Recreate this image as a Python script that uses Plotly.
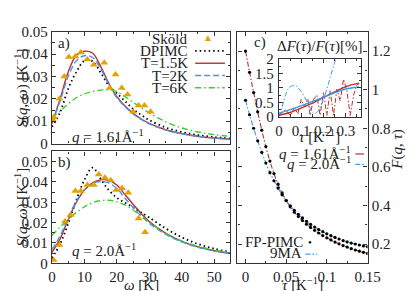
import plotly.graph_objects as go

W, H = 415, 291
FONT = "Liberation Serif"
RED = "#b8312f"
BLUE = "#3a9af0"
GREEN = "#3ccf2a"
ORANGE = "#e8a000"
FRAME = "#333333"

# ---------------- data ----------------
omega = [0, 2.5, 5, 7.5, 10, 12.5, 15, 17.5, 20, 22.5, 25, 27.5, 30, 35, 40, 45, 50, 55]

# panel a, q = 1.61 1/A
a_dpimc = [0.0075, 0.014, 0.0245, 0.032, 0.037, 0.0368, 0.0318, 0.026, 0.0225, 0.019, 0.0155, 0.0128, 0.0105, 0.0072, 0.0052, 0.0038, 0.0029, 0.0023]
a_T15 = [0.009, 0.020, 0.032, 0.0395, 0.0413, 0.0405, 0.0345, 0.027, 0.021, 0.0168, 0.0135, 0.011, 0.009, 0.0062, 0.0045, 0.0033, 0.0025, 0.002]
a_T2 = [0.0095, 0.019, 0.030, 0.037, 0.0393, 0.0385, 0.0335, 0.0265, 0.0205, 0.0165, 0.0133, 0.0108, 0.0088, 0.0061, 0.0044, 0.0032, 0.0024, 0.0019]
a_T6 = [0.0115, 0.0145, 0.0178, 0.0205, 0.0222, 0.0233, 0.0239, 0.024, 0.0232, 0.021, 0.0185, 0.016, 0.0137, 0.0098, 0.007, 0.0052, 0.004, 0.0032]
a_skold_w = [0.3, 0.5, 2.3, 3.8, 5.2, 7.2, 8.9, 10.9, 12.9, 16.1, 17.8, 19.6, 21.5, 23.3, 25.0, 26.7, 28.5, 30.4]
a_skold_s = [0.0105, 0.0118, 0.0201, 0.030, 0.0387, 0.039, 0.0407, 0.0376, 0.0352, 0.0362, 0.0248, 0.0309, 0.0248, 0.022, 0.0142, 0.017, 0.017, 0.0142]

# panel b, q = 2.0 1/A
b_dpimc = [0.0025, 0.0095, 0.0195, 0.031, 0.041, 0.047, 0.0415, 0.036, 0.0322, 0.0298, 0.0275, 0.025, 0.0225, 0.0172, 0.0128, 0.0095, 0.0072, 0.0055]
b_T15 = [0.0054, 0.012, 0.0215, 0.030, 0.036, 0.0395, 0.041, 0.0408, 0.0385, 0.0338, 0.029, 0.0245, 0.0205, 0.0148, 0.0108, 0.0081, 0.0062, 0.005]
b_T2 = [0.0068, 0.0135, 0.0225, 0.0305, 0.0362, 0.0393, 0.0402, 0.0395, 0.0368, 0.032, 0.0275, 0.0233, 0.0197, 0.0143, 0.0105, 0.0079, 0.0061, 0.0049]
b_T6 = [0.0138, 0.0178, 0.0215, 0.025, 0.0278, 0.0298, 0.0308, 0.031, 0.0302, 0.0287, 0.0262, 0.0232, 0.0202, 0.0148, 0.011, 0.0084, 0.0066, 0.0053]
b_skold_w = [0.5, 2.3, 4.0, 5.7, 7.2, 8.9, 10.9, 12.9, 14.4, 16.3, 18.1, 19.8, 21.6, 23.5, 26.7, 28.7]
b_skold_s = [0.0016, 0.009, 0.0205, 0.0237, 0.0355, 0.0355, 0.0385, 0.0385, 0.0437, 0.042, 0.0408, 0.036, 0.0369, 0.0347, 0.022, 0.0153]

# panel c, F(q, tau)
tau = [0.000, 0.005, 0.010, 0.015, 0.020, 0.025, 0.030, 0.035, 0.040, 0.045, 0.050,
       0.055, 0.060, 0.065, 0.070, 0.075, 0.080, 0.085, 0.090, 0.095, 0.100,
       0.105, 0.110, 0.115, 0.120, 0.125, 0.130, 0.135, 0.140, 0.145, 0.150]
F_q161 = [1.200, 1.090, 0.985, 0.885, 0.790, 0.705, 0.630, 0.565, 0.510, 0.465, 0.425,
          0.393, 0.365, 0.342, 0.322, 0.303, 0.286, 0.271, 0.257, 0.244, 0.232,
          0.221, 0.210, 0.201, 0.192, 0.184, 0.176, 0.169, 0.163, 0.157, 0.151]
F_q20 = [0.945, 0.870, 0.800, 0.735, 0.675, 0.620, 0.570, 0.528, 0.490, 0.455, 0.425,
         0.398, 0.375, 0.354, 0.335, 0.318, 0.302, 0.288, 0.275, 0.264, 0.253,
         0.243, 0.234, 0.226, 0.218, 0.211, 0.205, 0.200, 0.195, 0.190, 0.186]

# inset, relative deviation [%]
tau_in = [0, 0.05, 0.1, 0.15, 0.2, 0.25, 0.3, 0.36]
dev_q161 = [0.05, 0.15, 0.30, 0.47, 0.67, 0.86, 1.04, 1.16]
dev_q20 = [0.13, 0.25, 0.38, 0.53, 0.68, 0.83, 0.96, 1.03]
tau_in_r = [0, 0.03, 0.05, 0.07, 0.085, 0.1, 0.115, 0.13, 0.14, 0.155, 0.17, 0.185, 0.2, 0.215,
            0.23, 0.245, 0.26, 0.275, 0.29, 0.305, 0.32, 0.335, 0.35, 0.36]
dev9_q161 = [0.05, 0.25, 0.05, 0.3, 0.1, 0.6, 0.35, 0.62, 0.05, 0.6, 0.75, 0.05, 0.85, 0.05,
             0.9, 0.05, 0.95, 0.55, 1.3, 0.9, 0.05, 0.75, 1.1, 1.15]
tau_in_b = [0, 0.015, 0.03, 0.045, 0.065, 0.08, 0.095, 0.11, 0.125, 0.14, 0.155, 0.17, 0.185,
            0.2, 0.215, 0.23, 0.245, 0.26]
dev9_q20 = [0.0, 0.35, 0.76, 1.0, 1.08, 1.05, 0.92, 0.75, 0.54, 0.3, 0.12, 0.15, 0.32,
            0.6, 0.95, 1.35, 1.75, 2.1]

# ---------------- helpers ----------------
def px(x):
    return x / W

def py(y):
    return 1 - y / H

DOT = "1.5px,3px"
DASH = "6px,3px"
DASHDOT = "6px,3px,1.5px,3px"
DASHDOT9 = "5px,2px,1.5px,2px"

fig = go.Figure()

def curves(xa, ya, d, t15, t2, t6, sw, ss):
    fig.add_trace(go.Scatter(x=omega, y=d, mode="lines", xaxis=xa, yaxis=ya,
                             line=dict(color="black", width=1.8, dash=DOT, shape="spline")))
    fig.add_trace(go.Scatter(x=omega, y=t15, mode="lines", xaxis=xa, yaxis=ya,
                             line=dict(color=RED, width=1.4, shape="spline")))
    fig.add_trace(go.Scatter(x=omega, y=t2, mode="lines", xaxis=xa, yaxis=ya,
                             line=dict(color=BLUE, width=1.4, dash=DASH, shape="spline")))
    fig.add_trace(go.Scatter(x=omega, y=t6, mode="lines", xaxis=xa, yaxis=ya,
                             line=dict(color=GREEN, width=1.4, dash=DASHDOT, shape="spline")))
    fig.add_trace(go.Scatter(x=sw, y=ss, mode="markers", xaxis=xa, yaxis=ya,
                             marker=dict(symbol="triangle-up", size=7, color=ORANGE)))

curves("x", "y", a_dpimc, a_T15, a_T2, a_T6, a_skold_w, a_skold_s)
curves("x2", "y2", b_dpimc, b_T15, b_T2, b_T6, b_skold_w, b_skold_s)

# panel c
for F, col in ((F_q161, RED), (F_q20, BLUE)):
    fig.add_trace(go.Scatter(x=tau, y=F, mode="lines", xaxis="x3", yaxis="y3",
                             line=dict(color=col, width=1.1, dash=DASHDOT9, shape="spline")))
    fig.add_trace(go.Scatter(x=tau, y=F, mode="markers", xaxis="x3", yaxis="y3",
                             marker=dict(color="black", size=3.2)))

# inset
fig.add_trace(go.Scatter(x=tau_in_r, y=dev9_q161, mode="lines", xaxis="x4", yaxis="y4",
                         line=dict(color=RED, width=1.0, dash=DASHDOT9)))
fig.add_trace(go.Scatter(x=tau_in_b, y=dev9_q20, mode="lines", xaxis="x4", yaxis="y4",
                         line=dict(color=BLUE, width=1.0, dash=DASHDOT9, shape="spline")))
fig.add_trace(go.Scatter(x=tau_in, y=dev_q161, mode="lines", xaxis="x4", yaxis="y4",
                         line=dict(color=RED, width=1.4, shape="spline")))
fig.add_trace(go.Scatter(x=tau_in, y=dev_q20, mode="lines", xaxis="x4", yaxis="y4",
                         line=dict(color=BLUE, width=1.4, shape="spline")))

tickfont = dict(family=FONT, size=15, color="#222")

def ax(domain, rng, dtick, mdtick, anchor, showlabels=True, side=None, tick0=None, lw=1.3, standoff=None):
    d = dict(domain=domain, range=rng, dtick=dtick, tick0=tick0 if tick0 is not None else 0,
             ticks="inside", ticklen=4, tickwidth=1, tickcolor=FRAME,
             showline=True, linecolor=FRAME, linewidth=lw, mirror="allticks",
             showgrid=False, zeroline=False, showticklabels=showlabels,
             tickfont=tickfont, anchor=anchor, fixedrange=True)
    if mdtick:
        d["minor"] = dict(ticks="inside", ticklen=2.5, dtick=mdtick, tickcolor=FRAME, showgrid=False)
    if side:
        d["side"] = side
    if standoff is not None:
        d["ticklabelstandoff"] = standoff
    return d

dom_ab_x = [px(41.7), px(227.7)]
dom_a_y = [py(135), py(16.7)]
dom_b_y = [py(261.7), py(143.3)]
dom_c_x = [px(235), px(370.7)]
dom_c_y = [py(261.7), py(16.7)]
dom_i_x = [px(278.3), px(364.3)]
dom_i_y = [py(106.7), py(45.3)]

fig.update_layout(
    width=W, height=H, autosize=False,
    margin=dict(l=0, r=0, t=0, b=0),
    paper_bgcolor="white", plot_bgcolor="rgba(0,0,0,0)",
    showlegend=False,
    font=dict(family=FONT, size=15, color="#222"),
    xaxis=ax(dom_ab_x, [0, 55], 10, 5, "y", showlabels=False),
    yaxis=ax(dom_a_y, [0, 0.05], 0.01, 0.005, "x"),
    xaxis2=ax(dom_ab_x, [0, 55], 10, 5, "y2", standoff=0),
    yaxis2=ax(dom_b_y, [0, 0.055], 0.01, 0.005, "x2"),
    xaxis3=ax(dom_c_x, [-0.01, 0.15], 0.05, 0.025, "y3", standoff=0),
    yaxis3=ax(dom_c_y, [0.1, 1.3], 0.2, 0.1, "x3", side="right", tick0=0.2),
    xaxis4=ax(dom_i_x, [0, 0.37], 0.1, 0.05, "y4", lw=1.1, standoff=0),
    yaxis4=ax(dom_i_y, [0, 2], 0.5, 0.25, "x4", lw=1.1, standoff=1),
)

ann = []
def text(x, y, s, xanchor="center", yanchor="middle", size=15, angle=0, color="#222"):
    ann.append(dict(x=px(x), y=py(y), xref="paper", yref="paper", text=s, showarrow=False,
                    xanchor=xanchor, yanchor=yanchor, textangle=angle,
                    font=dict(family=FONT, size=size, color=color)))

# axis titles
text(10, 76, "<i>S</i>(<i>q</i>, <i>ω</i>) [K<sup>−1</sup>]", angle=-90)
text(10, 202, "<i>S</i>(<i>q</i>, <i>ω</i>) [K<sup>−1</sup>]", angle=-90)
text(134.7, 284.5, "<i>ω</i> [K]")
text(303, 284, "<i>τ</i> [K<sup>−1</sup>]")
text(402, 141, "<i>F</i>(<i>q</i>, <i>τ</i>)", angle=-90)
text(321, 127, "<i>τ</i> [K<sup>−1</sup>]")
text(321, 32, "Δ<i>F</i>(<i>τ</i>)/<i>F</i>(<i>τ</i>)[%]")

# panel labels
text(46, 29, "a)", xanchor="left")
text(46, 155, "b)", xanchor="left")
text(250, 28, "c)", xanchor="left")
text(60, 127, "<i>q</i> = 1.61Å<sup>−1</sup>", xanchor="left")
text(60, 248, "<i>q</i> = 2.0Å<sup>−1</sup>", xanchor="left")

# panel a legend
leg_rows = [("Sköld", 24), ("DPIMC", 37), ("T=1.5K", 50), ("T=2K", 63), ("T=6K", 76)]
for s, yy in leg_rows:
    text(186, yy, s, xanchor="right")
text(204, 23, "▲", size=10, color=ORANGE)

shapes = []
def seg(x0, x1, y, color, dash, width=1.4):
    shapes.append(dict(type="line", xref="paper", yref="paper",
                       x0=px(x0), x1=px(x1), y0=py(y), y1=py(y),
                       line=dict(color=color, width=width, dash=dash)))
seg(191, 222, 37, "black", DOT, 1.8)
seg(191, 222, 50, RED, "solid")
seg(191, 222, 63, BLUE, DASH)
seg(191, 222, 76, GREEN, DASHDOT)

# panel c legend
text(356, 145, "<i>q</i> = 1.61Å<sup>−1</sup>", xanchor="right")
text(356, 156, "<i>q</i> = 2.0Å<sup>−1</sup>", xanchor="right")
text(306, 239, "FP-PIMC", xanchor="right")
text(304, 251, "9MA", xanchor="right")
seg(358, 367, 146, RED, "solid", 1.2)
seg(358, 367, 157, BLUE, DASHDOT9, 1.1)
seg(306, 318, 252, BLUE, DASHDOT9, 1.1)
text(311, 239, "•", size=11, color="black")

fig.update_layout(annotations=ann, shapes=shapes)
fig.write_html("out.html")
